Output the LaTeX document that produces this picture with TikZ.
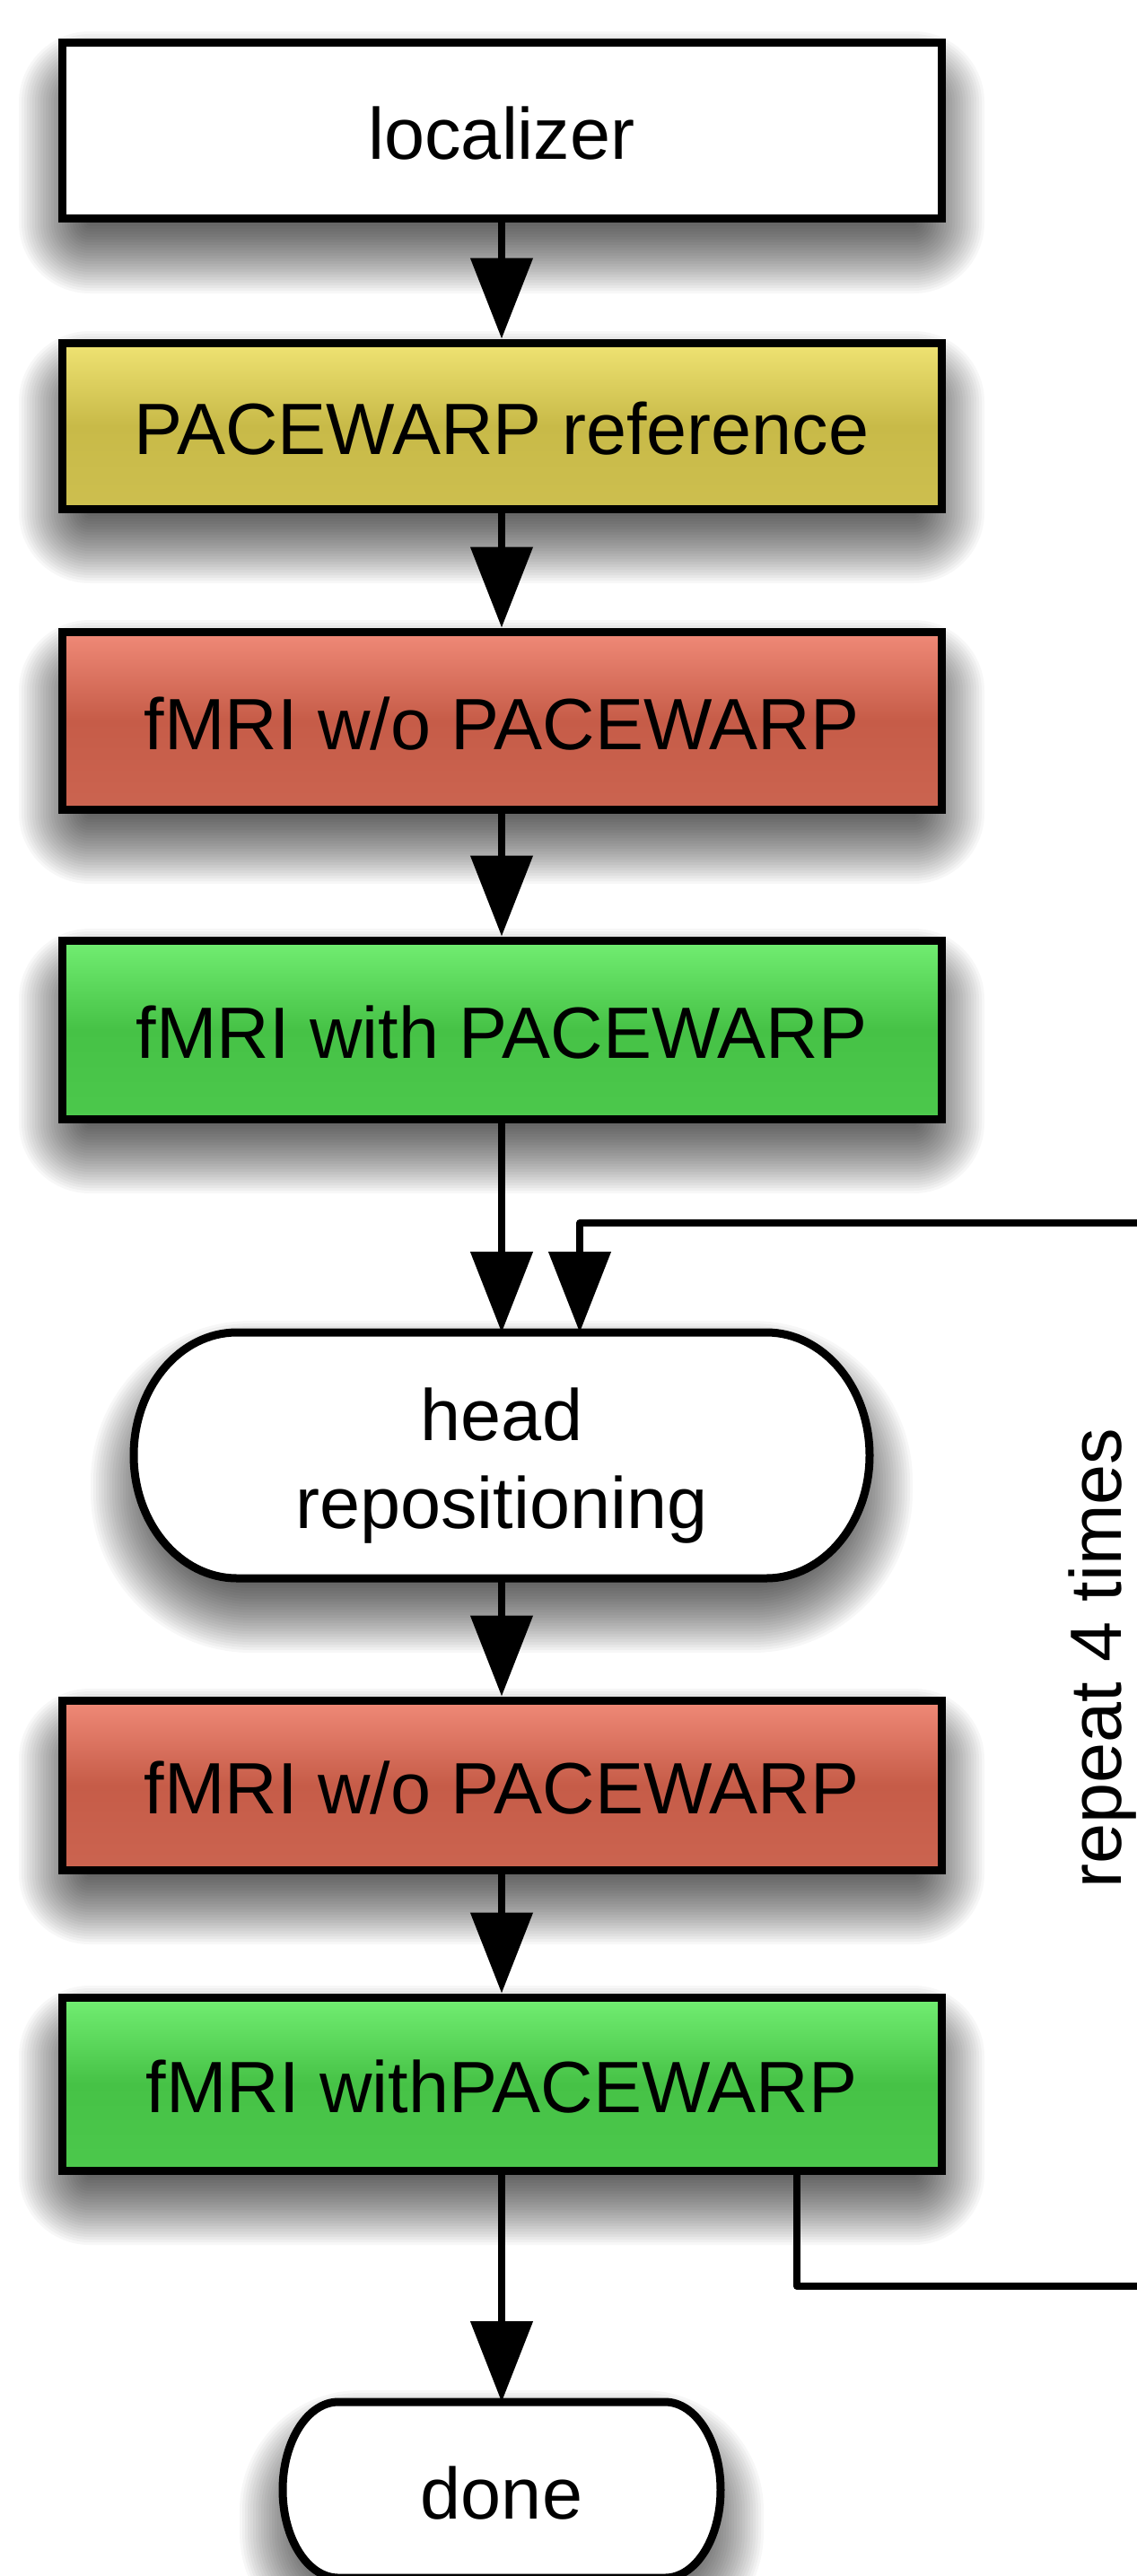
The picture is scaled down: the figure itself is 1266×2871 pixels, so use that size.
\documentclass[tikz,border=0pt]{standalone}
\usepackage{fontspec}
\setmainfont{Liberation Sans}
\usetikzlibrary{arrows.meta,calc}
\definecolor{yelTop}{HTML}{EFE373}
\definecolor{yelMid}{HTML}{C8BA48}
\definecolor{yelBot}{HTML}{CDBF4F}
\definecolor{redTop}{HTML}{F08A78}
\definecolor{redMid}{HTML}{C65C48}
\definecolor{redBot}{HTML}{CB6450}
\definecolor{grnTop}{HTML}{72EE72}
\definecolor{grnMid}{HTML}{46C246}
\definecolor{grnBot}{HTML}{4CC84C}
\pgfdeclarelayer{shadowlayer}
\pgfdeclarelayer{bglayer}
\pgfsetlayers{shadowlayer,bglayer,main}
\newcommand{\softshadow}[5]{%
  \foreach \r in {-30,-27,...,50}{%
    \pgfmathsetmacro{\rc}{#5+\r+31}%
    \pgfmathsetmacro{\xa}{#1-\r}%
    \pgfmathsetmacro{\ya}{-#2-35+\r}%
    \pgfmathsetmacro{\xb}{#3+\r}%
    \pgfmathsetmacro{\yb}{-#4-35-\r}%
    \fill[black, opacity=0.03, rounded corners=\rc pt] (\xa,\ya) rectangle (\xb,\yb);
  }}
\newcommand{\stadium}[3]{%
  \draw[boxline, fill=white] ($(#1.north west)+(#2,0)$) -- ($(#1.north east)+(-#2,0)$)
    arc[start angle=90, end angle=-90, x radius=#2, y radius=#3]
    -- ($(#1.south west)+(#2,0)$)
    arc[start angle=270, end angle=90, x radius=#2, y radius=#3] -- cycle;}
\begin{document}
\begin{tikzpicture}[x=1pt,y=1pt,
  boxline/.style={draw=black, line width=9pt},
  flowbox/.style={boxline, rectangle, inner sep=0pt, minimum width=980pt,
    font=\fontsize{81}{98}\selectfont, text height=64pt, text depth=0pt},
  whitebox/.style={flowbox, fill=white},
  yellowbox/.style={flowbox, top color=yelTop, bottom color=yelBot, middle color=yelMid},
  redbox/.style={flowbox, top color=redTop, bottom color=redBot, middle color=redMid},
  greenbox/.style={flowbox, top color=grnTop, bottom color=grnBot, middle color=grnMid},
  termnode/.style={rectangle, inner sep=0pt, outer sep=0pt, align=center,
    font=\fontsize{81}{98}\selectfont, text height=64pt, text depth=0pt},
  conn/.style={line width=8pt, -{Triangle[length=90pt,width=68pt]}},
]
\useasboundingbox (0,0) rectangle (1266,-2871);

% nodes
\node[whitebox, minimum height=196pt] (loc) at (559,-146) {localizer};
\node[yellowbox, minimum height=185pt] (ref) at (559,-474.5) {PACEWARP reference};
\node[redbox, minimum height=198pt] (wo1) at (559,-803) {fMRI w/o PACEWARP};
\node[greenbox, minimum height=199pt] (with1) at (559,-1147.5) {fMRI with PACEWARP};
\node[termnode, text height=162pt, minimum width=820pt, minimum height=274pt] (head) at (559,-1622) {head\\repositioning};
\node[redbox, minimum height=189pt] (wo2) at (559,-1989.5) {fMRI w/o PACEWARP};
\node[greenbox, minimum height=193pt] (with2) at (559,-2322.5) {fMRI withPACEWARP};
\node[termnode, minimum width=488pt, minimum height=196pt] (done) at (559,-2775) {done};
\node[rotate=90, anchor=base, inner sep=0pt, font=\fontsize{81}{98}\selectfont] (rep) at (1249,-1848) {repeat 4 times};

% terminal outlines
\begin{pgfonlayer}{bglayer}
  \stadium{head}{115}{137}
  \stadium{done}{62}{98}
\end{pgfonlayer}

% background and shadows
\begin{pgfonlayer}{shadowlayer}
  \fill[white] (0,0) rectangle (1266,-2871);
  \softshadow{69}{48}{1049}{244}{0}
  \softshadow{69}{382}{1049}{567}{0}
  \softshadow{69}{704}{1049}{902}{0}
  \softshadow{69}{1048}{1049}{1247}{0}
  \softshadow{149}{1485}{969}{1759}{100}
  \softshadow{69}{1895}{1049}{2084}{0}
  \softshadow{69}{2226}{1049}{2419}{0}
  \softshadow{315}{2677}{803}{2873}{55}
\end{pgfonlayer}

% connectors
\coordinate (lpA) at (888,-2548);
\coordinate (lpB) at (1300,-2548);
\coordinate (lpC) at (1300,-1363);
\coordinate (lpD) at (646,-1363);

\draw[conn] (loc.south) -- (ref.north);
\draw[conn] (ref.south) -- (wo1.north);
\draw[conn] (wo1.south) -- (with1.north);
\draw[conn] (with1.south) -- (head.north);
\draw[conn] (head.south) -- (wo2.north);
\draw[conn] (wo2.south) -- (with2.north);
\draw[conn] (with2.south) -- (done.north);
\draw[conn, line join=round] (with2.south -| lpA) -- (lpA) -- (lpB) -- (lpC) -- (lpD) -- (head.north -| lpD);
\end{tikzpicture}
\end{document}
